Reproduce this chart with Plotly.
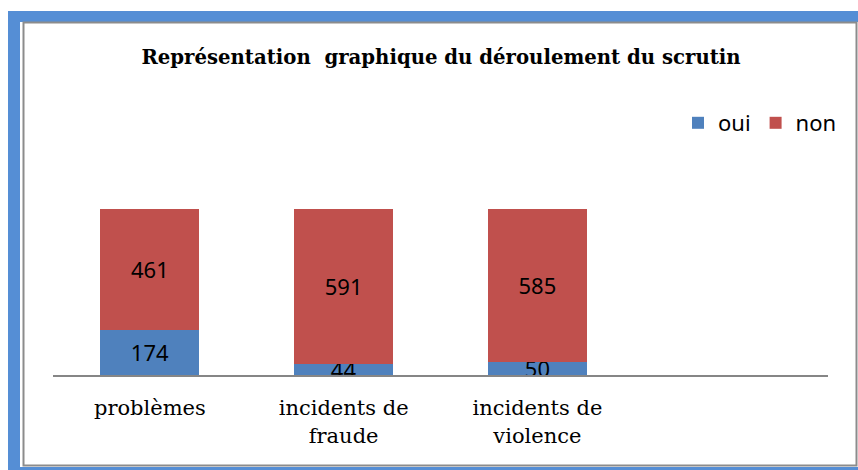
import plotly.graph_objects as go

categories = ["problèmes", "incidents de<br>fraude", "incidents de<br>violence"]
oui = [174, 44, 50]
non = [461, 591, 585]
series_names = ["oui", "non"]
title_text = "Représentation  graphique du déroulement du scrutin"

W, H = 858, 470
ML, MR, MT, MB = 53, 30, 125, 95
PW, PH = W - ML - MR, H - MT - MB

def px(x):
    return (x - ML) / PW

def py(y):
    return (H - MB - y) / PH

BLUE = "#4F81BD"
RED = "#C0504D"
xs = list(range(len(categories)))

fig = go.Figure()
for name, vals, col in [(series_names[0], oui, BLUE), (series_names[1], non, RED)]:
    fig.add_trace(go.Bar(
        x=xs, y=vals, name=name, marker=dict(color=col, line=dict(width=0)),
        width=0.51, text=[str(v) for v in vals], textposition="inside",
        insidetextanchor="middle", textangle=0, constraintext="none",
        textfont=dict(family="Noto Sans", size=22, color="black"),
    ))

total_max = max(a + b for a, b in zip(oui, non))
ymax = total_max * PH / 166.0

shapes = [
    dict(type="rect", xref="paper", yref="paper", x0=px(8), x1=px(858), y0=py(11), y1=py(22),
         fillcolor="#558ED5", line=dict(width=0)),
    dict(type="rect", xref="paper", yref="paper", x0=px(8), x1=px(20), y0=py(11), y1=py(470),
         fillcolor="#558ED5", line=dict(width=0)),
    dict(type="rect", xref="paper", yref="paper", x0=px(8), x1=px(858), y0=py(467), y1=py(470),
         fillcolor="#558ED5", line=dict(width=0)),
    dict(type="rect", xref="paper", yref="paper", x0=px(23.5), x1=px(856.5), y0=py(22.5), y1=py(465.5),
         fillcolor="rgba(0,0,0,0)", line=dict(color="#8C8C8C", width=2)),
]

fig.update_layout(
    width=W, height=H,
    margin=dict(l=ML, r=MR, t=MT, b=MB),
    paper_bgcolor="white", plot_bgcolor="white",
    barmode="stack", bargap=0.49,
    title=dict(text="<b>" + title_text + "</b>", xref="container", yref="container",
               x=441 / W, y=1 - 57 / H, xanchor="center", yanchor="middle",
               font=dict(family="DejaVu Serif", size=19.7, color="black")),
    xaxis=dict(range=[-0.5, 3.5], tickvals=xs, ticktext=categories, showgrid=False,
               zeroline=False, showline=True, linecolor="#868686", linewidth=2,
               ticks="", ticklabelstandoff=13,
               tickfont=dict(family="DejaVu Serif", size=21, color="black")),
    yaxis=dict(range=[0, ymax], visible=False),
    legend=dict(orientation="h", x=px(842), y=py(123), xanchor="right", yanchor="middle",
                font=dict(family="Noto Sans", size=22, color="black"),
                bgcolor="rgba(0,0,0,0)", itemclick=False, traceorder="normal"),
    uniformtext=dict(minsize=22, mode="show"),
    shapes=shapes,
    showlegend=True,
)

fig.write_html("out.html", config={"displayModeBar": False},
               post_script="document.body.style.margin='0';")
